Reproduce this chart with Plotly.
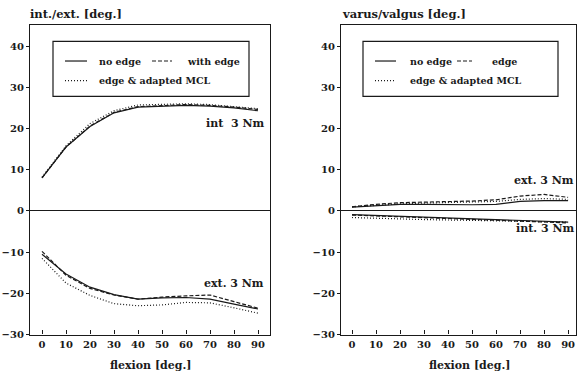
import plotly.graph_objects as go

W, H = 577, 377

flexion = [0, 10, 20, 30, 40, 50, 60, 70, 80, 90]

# internal/external rotation [deg.]
ie_int_no_edge = [8.0, 15.5, 20.5, 23.8, 25.2, 25.4, 25.6, 25.4, 25.0, 24.3]
ie_int_edge = [8.0, 15.5, 20.6, 23.9, 25.3, 25.6, 25.8, 25.6, 25.2, 24.6]
ie_int_mcl = [8.2, 15.8, 21.2, 24.3, 25.7, 25.9, 26.0, 25.8, 25.3, 24.8]
ie_ext_no_edge = [-10.5, -15.3, -18.5, -20.3, -21.4, -21.1, -21.0, -21.4, -22.6, -23.8]
ie_ext_edge = [-9.8, -15.6, -18.8, -20.4, -21.4, -20.9, -20.6, -20.4, -22.0, -23.6]
ie_ext_mcl = [-11.5, -17.5, -20.5, -22.5, -23.0, -22.8, -22.2, -22.3, -23.5, -24.8]

# varus/valgus [deg.]
vv_ext_no_edge = [0.9, 1.3, 1.6, 1.6, 1.5, 1.5, 1.6, 2.3, 2.5, 2.5]
vv_ext_edge = [1.0, 1.6, 2.0, 2.1, 2.2, 2.4, 2.7, 3.6, 4.0, 3.3]
vv_ext_mcl = [1.0, 1.4, 1.7, 1.9, 2.0, 2.2, 2.3, 2.8, 3.0, 2.8]
vv_int_no_edge = [-0.9, -1.1, -1.4, -1.6, -1.8, -2.0, -2.2, -2.4, -2.6, -2.7]
vv_int_edge = [-1.0, -1.2, -1.5, -1.7, -1.9, -2.1, -2.3, -2.5, -2.7, -2.9]
vv_int_mcl = [-1.6, -1.8, -2.0, -2.1, -2.2, -2.3, -2.4, -2.5, -2.6, -2.7]

y_ticks = [-30, -20, -10, 0, 10, 20, 30, 40]
x_ticks = flexion

FONT = "DejaVu Serif"
INK = "#1a1a1a"
DASH = "4px,2px"
DOT = "1px,2px"

def px(x):
    return x / W

def py(y):
    return 1 - y / H

fig = go.Figure()

def add(xa, ya, ys, dash, width=1.2):
    fig.add_trace(go.Scatter(x=flexion, y=ys, mode="lines", xaxis=xa, yaxis=ya,
                             line=dict(color=INK, width=width, dash=dash),
                             showlegend=False, hoverinfo="skip"))

add("x", "y", ie_int_no_edge, "solid")
add("x", "y", ie_int_edge, DASH)
add("x", "y", ie_int_mcl, DOT)
add("x", "y", ie_ext_no_edge, "solid")
add("x", "y", ie_ext_edge, DASH)
add("x", "y", ie_ext_mcl, DOT)
add("x2", "y2", vv_ext_no_edge, "solid")
add("x2", "y2", vv_ext_edge, DASH)
add("x2", "y2", vv_ext_mcl, DOT)
add("x2", "y2", vv_int_no_edge, "solid")
add("x2", "y2", vv_int_edge, DASH)
add("x2", "y2", vv_int_mcl, DOT)

tickfont = dict(family=FONT, size=10, color=INK, weight="bold")
ydom = [py(340), py(25)]

xcommon = dict(tickvals=x_ticks, ticks="inside", ticklen=4, tickcolor=INK,
               showline=True, linecolor=INK, linewidth=1.3, mirror=True,
               showgrid=False, zeroline=False, tickfont=tickfont,
               ticklabeloverflow="allow")
ycommon = dict(tickvals=y_ticks, ticks="outside", ticklen=3, tickcolor=INK,
               showline=True, linecolor=INK, linewidth=1.3, mirror=True,
               showgrid=False, zeroline=True, zerolinecolor=INK, zerolinewidth=1.2,
               range=[-30, 45.2], tickfont=tickfont)

fig.update_layout(
    width=W, height=H,
    margin=dict(l=0, r=0, t=0, b=0),
    paper_bgcolor="white", plot_bgcolor="white",
    xaxis=dict(domain=[px(30), px(270)], range=[-5, 95], anchor="y", **xcommon),
    yaxis=dict(domain=ydom, anchor="x", **ycommon),
    xaxis2=dict(domain=[px(341), px(576)], range=[-4.6, 93.3], anchor="y2", **xcommon),
    yaxis2=dict(domain=ydom, anchor="x2", **ycommon),
)

annots = []
shapes = []

def text(x, y, s, anchor="left", size=10.5):
    annots.append(dict(x=px(x), y=py(y), xref="paper", yref="paper", text=s,
                       showarrow=False, xanchor=anchor, yanchor="middle",
                       font=dict(family=FONT, size=size, color=INK, weight="bold")))

def seg(x0, x1, y, dash):
    shapes.append(dict(type="line", xref="paper", yref="paper",
                       x0=px(x0), x1=px(x1), y0=py(y), y1=py(y),
                       line=dict(color=INK, width=1.2, dash=dash)))

# axis titles
text(28, 14, "int./ext. [deg.]", size=11.5)
text(340, 14, "varus/valgus [deg.]", size=11.5)
text(151, 371, "flexion [deg.]", anchor="center", size=11)
text(470, 371, "flexion [deg.]", anchor="center", size=11)

# curve labels
text(266, 126, "int  3 Nm", anchor="right", size=11)
text(266, 288, "ext. 3 Nm", anchor="right", size=11)
text(576, 183, "ext. 3 Nm", anchor="right", size=11)
text(576, 232, "int. 3 Nm", anchor="right", size=11)

# legend boxes
for (x0, x1) in [(53, 249), (363, 558)]:
    shapes.append(dict(type="rect", xref="paper", yref="paper",
                       x0=px(x0), x1=px(x1), y0=py(98), y1=py(42),
                       line=dict(color=INK, width=1.2), fillcolor="white"))

LS = 9.5
seg(65, 87, 62, "solid"); text(97, 62, "no edge", size=LS)
seg(152, 172, 62, DASH); text(185, 62, "with edge", size=LS)
seg(65, 87, 82, DOT); text(97, 82, "edge &amp; adapted MCL", size=LS)

seg(375, 396, 62, "solid"); text(408, 62, "no edge", size=LS)
seg(457, 472, 62, DASH); text(490, 62, "edge", size=LS)
seg(375, 396, 82, DOT); text(408, 82, "edge &amp; adapted MCL", size=LS)

fig.update_layout(annotations=annots, shapes=shapes)

fig.write_html("out.html", config={"displayModeBar": False},
               post_script="document.body.style.margin='0';document.body.style.overflow='hidden';")
